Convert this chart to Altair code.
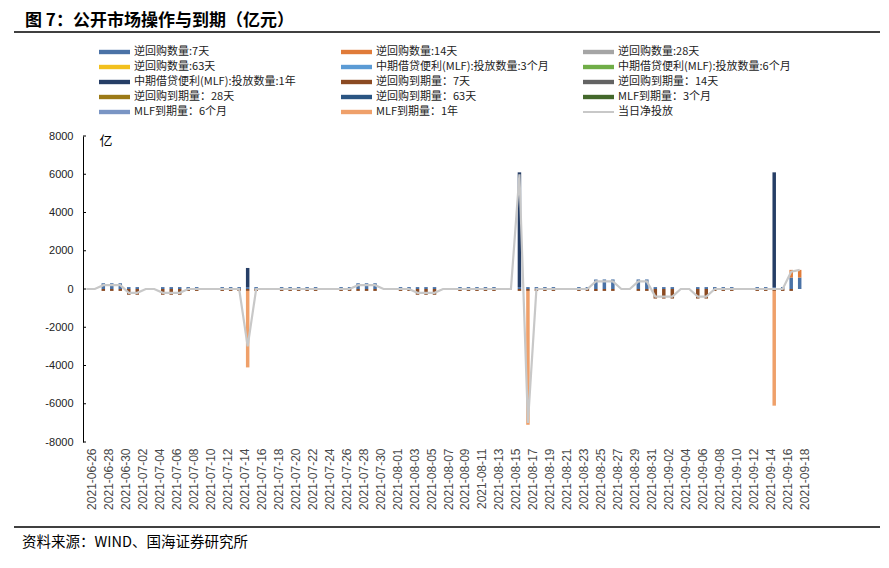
import altair as alt
import pandas as pd

# ---------------- data ----------------
dates = [d.strftime("%Y-%m-%d") for d in pd.date_range("2021-06-26", "2021-09-18", freq="D")]
label_dates = dates[::2]

series_names = [
    "逆回购数量:7天", "逆回购数量:14天", "逆回购数量:28天",
    "逆回购数量:63天", "中期借贷便利(MLF):投放数量:3个月", "中期借贷便利(MLF):投放数量:6个月",
    "中期借贷便利(MLF):投放数量:1年", "逆回购到期量：7天", "逆回购到期量：14天",
    "逆回购到期量：28天", "逆回购到期量：63天", "MLF到期量：3个月",
    "MLF到期量：6个月", "MLF到期量：1年", "当日净投放",
]
series_colors = [
    "#4A72A6", "#E07B39", "#A5A5A5",
    "#F2C01E", "#5B9BD5", "#70AD47",
    "#263E66", "#8B4A22", "#636363",
    "#9C7A16", "#2A5582", "#43682B",
    "#7A95C4", "#EFA06A", "#C8C8C8",
]

# 逆回购数量:7天 (亿元)
rr7_issue = [
    0, 0, 300, 300, 300, 100, 100, 0, 0, 100, 100, 100, 100, 100, 0, 0,
    100, 100, 100, 100, 100, 0, 0, 100, 100, 100, 100, 100, 0, 0,
    100, 100, 300, 300, 300, 0, 0, 100, 100, 100, 100, 100, 0, 0,
    100, 100, 100, 100, 100, 0, 0, 100, 100, 100, 100, 100, 0, 0,
    100, 100, 500, 500, 500, 0, 0, 500, 500, 100, 100, 100, 0, 0,
    100, 100, 100, 100, 100, 0, 0, 100, 100, 100, 100, 600, 600,
]
# 逆回购数量:14天
rr14_issue = [0] * 83 + [400, 400]
# 中期借贷便利(MLF):投放数量:1年
mlf1y_issue = [0] * 85
mlf1y_issue[19] = 1000
mlf1y_issue[51] = 6000
mlf1y_issue[81] = 6000
# 逆回购到期量：7天
rr7_mature = [
    0, 0, -100, -100, -100, -300, -300, 0, 0, -300, -300, -300, -100, -100, 0, 0,
    -100, -100, -100, -100, -100, 0, 0, -100, -100, -100, -100, -100, 0, 0,
    -100, -100, -100, -100, -100, 0, 0, -100, -100, -300, -300, -300, 0, 0,
    -100, -100, -100, -100, -100, 0, 0, -100, -100, -100, -100, -100, 0, 0,
    -100, -100, -100, -100, -100, 0, 0, -100, -100, -500, -500, -500, 0, 0,
    -500, -500, -100, -100, -100, 0, 0, -100, -100, -100, -100, -100, 0,
]
# MLF到期量：1年
mlf1y_mature = [0] * 85
mlf1y_mature[19] = -4000
mlf1y_mature[52] = -7000
mlf1y_mature[81] = -6000
# 当日净投放
net_injection = [
    0, 0, 200, 200, 200, -200, -200, 0, 0, -200, -200, -200, 0, 0, 0, 0,
    0, 0, 0, -3000, 0, 0, 0, 0, 0, 0, 0, 0, 0, 0,
    0, 0, 200, 200, 200, 0, 0, 0, 0, -200, -200, -200, 0, 0,
    0, 0, 0, 0, 0, 0, 0, 6000, -7000, 0, 0, 0, 0, 0,
    0, 0, 400, 400, 400, 0, 0, 400, 400, -400, -400, -400, 0, 0,
    -400, -400, 0, 0, 0, 0, 0, 0, 0, 0, 0, 900, 1000,
]
y_ticks = list(range(-8000, 8001, 2000))

title_text = "图 7：公开市场操作与到期（亿元）"
source_text = "资料来源：WIND、国海证券研究所"

# ---------------- tables ----------------
bar_inputs = [
    (0, rr7_issue), (1, rr14_issue), (6, mlf1y_issue),
    (7, rr7_mature), (13, mlf1y_mature),
]
rows = []
for k, vals in bar_inputs:
    for d, v in zip(dates, vals):
        if v != 0:
            rows.append({"date": d, "series": series_names[k], "value": v, "order": k})
bars_df = pd.DataFrame(rows)
net_df = pd.DataFrame({"date": dates, "net": net_injection})
ticks_df = pd.DataFrame({"v": y_ticks})

col_x = [16, 258, 500]
leg_rows = []
for i, (n, c) in enumerate(zip(series_names, series_colors)):
    r, cidx = divmod(i, 3)
    yc = -84 + r * 15
    half = 1 if n == "当日净投放" else 2.2
    leg_rows.append({"name": n, "color": c, "x0": col_x[cidx], "x1": col_x[cidx] + 31,
                     "y0": yc - half, "y1": yc + half, "tx": col_x[cidx] + 35, "ty": yc})
legend_df = pd.DataFrame(leg_rows)

# ---------------- chart ----------------
W, H = 720, 306
xscale = alt.Scale(type="point", domain=dates, padding=0.39)
yscale = alt.Scale(domain=[-8000, 8000], nice=False, zero=False)

x_axis = alt.Axis(values=label_dates, labelAngle=-90, labelAlign="right",
                  labelBaseline="middle", labelFontSize=12, labelFont="Liberation Sans",
                  labelColor="#4A4A4A", domain=False, ticks=False, labelPadding=6,
                  labelOffset=5, labelOverlap=False, title=None)
y_axis = alt.Axis(values=y_ticks, labelExpr="'' + datum.value", labelFontSize=11,
                  labelFont="Liberation Sans", labelColor="#222222", domainColor="#000000",
                  domainWidth=1, ticks=False, grid=False, labelPadding=10, title=None)

bars = alt.Chart(bars_df).mark_bar(size=3.5).encode(
    x=alt.X("date:O", scale=xscale, sort=dates, axis=x_axis),
    y=alt.Y("value:Q", scale=yscale, stack="zero", axis=y_axis),
    color=alt.Color("series:N", scale=alt.Scale(domain=series_names, range=series_colors), legend=None),
    order=alt.Order("order:Q"),
)

line = alt.Chart(net_df).mark_line(color="#C8C8C8", strokeWidth=2.2).encode(
    x=alt.X("date:O", scale=xscale, sort=dates, axis=x_axis),
    y=alt.Y("net:Q", scale=yscale, axis=y_axis),
)

inner_ticks = alt.Chart(ticks_df).mark_rule(color="#000000", strokeWidth=1).encode(
    y=alt.Y("v:Q", scale=yscale, axis=y_axis),
    x=alt.value(0), x2=alt.value(3),
)

leg_sym = alt.Chart(legend_df).mark_rect().encode(
    x=alt.X("x0:Q", scale=None, axis=None), x2="x1",
    y=alt.Y("y0:Q", scale=None, axis=None), y2="y1",
    color=alt.Color("color:N", scale=None),
)
leg_txt = alt.Chart(legend_df).mark_text(align="left", baseline="middle", fontSize=11,
                                          font="Noto Sans CJK SC", color="#222222").encode(
    x=alt.X("tx:Q", scale=None, axis=None),
    y=alt.Y("ty:Q", scale=None, axis=None),
    text="name:N",
)

deco_base = alt.Chart(pd.DataFrame({"a": [0]}))
title_mark = deco_base.mark_text(align="left", baseline="middle", fontSize=17, fontWeight="bold",
                                 font="Noto Sans CJK SC", color="#000000").encode(
    x=alt.value(-58), y=alt.value(-115), text=alt.value(title_text))
title_rule = deco_base.mark_rule(color="#000000", strokeWidth=1.5).encode(
    x=alt.value(-69), x2=alt.value(797), y=alt.value(-104))
foot_rule = deco_base.mark_rule(color="#000000", strokeWidth=1.5).encode(
    x=alt.value(-69), x2=alt.value(797), y=alt.value(391))
foot_text = deco_base.mark_text(align="left", baseline="middle", fontSize=14.5,
                                font="Noto Sans CJK SC", color="#000000").encode(
    x=alt.value(-61), y=alt.value(407), text=alt.value(source_text))
unit_text = deco_base.mark_text(align="center", baseline="middle", fontSize=13,
                                font="Noto Sans CJK SC", color="#000000").encode(
    x=alt.value(23), y=alt.value(5), text=alt.value("亿"))

chart = alt.layer(
    bars, line, inner_ticks, leg_sym, leg_txt, title_mark, title_rule, foot_rule, foot_text, unit_text
).properties(
    width=W, height=H,
    autosize=alt.AutoSizeParams(type="none"),
    padding={"left": 83, "top": 136, "right": 86, "bottom": 126},
    background="#FFFFFF",
).configure_view(strokeWidth=0)

chart.save("out.html", embed_options={"renderer": "svg", "actions": False})
